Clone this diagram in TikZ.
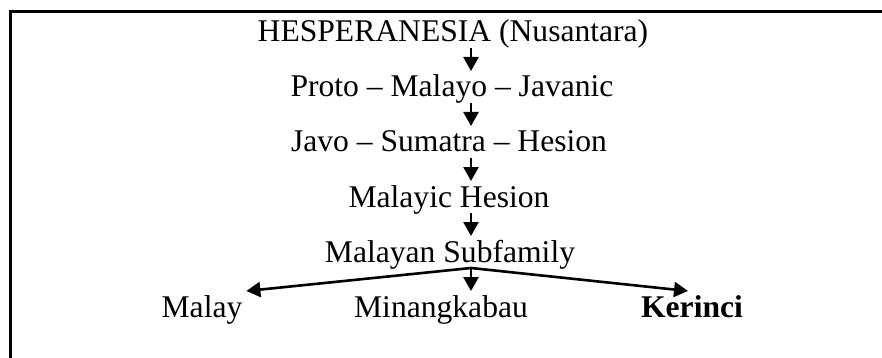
\documentclass[tikz,border=0pt]{standalone}
\usepackage{fontspec}
\setmainfont{Liberation Serif}
\usetikzlibrary{arrows.meta}
\begin{document}
\begin{tikzpicture}[x=1pt,y=-1pt,
  lbl/.style={inner sep=0pt,outer sep=0pt,anchor=base,text height=26pt,text depth=6pt,
    font=\fontsize{31.6}{36}\selectfont},
  arr/.style={line width=2.6pt,-{Triangle[length=14pt,width=15pt]}},
  frame/.style={line width=3pt}]
\useasboundingbox (0,0) rectangle (882,358);
\draw[frame] (10,362) -- (10,12) -- (886,12);
\coordinate (ax) at (471,0);
\node[lbl] (n1) at (453,42) {HESPERANESIA (Nusantara)};
\node[lbl] (n2) at (452,97) {Proto – Malayo – Javanic};
\node[lbl] (n3) at (449,152) {Javo – Sumatra – Hesion};
\node[lbl] (n4) at (449,207) {Malayic Hesion};
\node[lbl] (n5) at (450,262) {Malayan Subfamily};
\node[lbl] (malay) at (202,317) {Malay};
\node[lbl] (minang) at (441,317) {Minangkabau};
\node[lbl] (kerinci) at (692,317) {\bfseries Kerinci};
\draw[arr] (n1.south -| ax) -- (n2.north -| ax);
\draw[arr] (n2.south -| ax) -- (n3.north -| ax);
\draw[arr] (n3.south -| ax) -- (n4.north -| ax);
\draw[arr] (n4.south -| ax) -- (n5.north -| ax);
\draw[arr] (n5.south -| ax) -- (minang.north -| ax);
\draw[arr] (n5.south -| ax) -- ([xshift=4pt]malay.north east);
\draw[arr] (n5.south -| ax) -- ([xshift=-4pt]kerinci.north);
\end{tikzpicture}
\end{document}
